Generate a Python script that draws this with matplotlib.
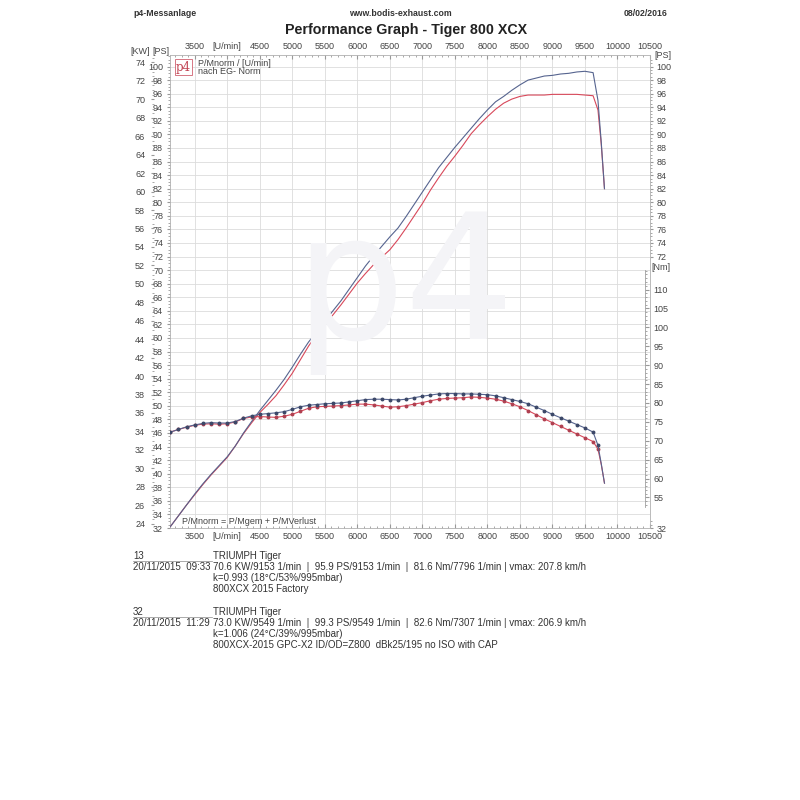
import matplotlib.pyplot as plt
from matplotlib.ticker import MultipleLocator, FixedLocator

plt.rcParams['font.family'] = ['Liberation Sans', 'DejaVu Sans']

# engine speed of the samples [U/min]
rpm = [3125, 3250, 3375, 3500, 3625, 3750, 3875, 4000,
       4125, 4250, 4375, 4500, 4625, 4750, 4875, 5000,
       5125, 5250, 5375, 5500, 5625, 5750, 5875, 6000,
       6125, 6250, 6375, 6500, 6625, 6750, 6875, 7000,
       7125, 7250, 7375, 7500, 7625, 7750, 7875, 8000,
       8125, 8250, 8375, 8500, 8625, 8750, 8875, 9000,
       9125, 9250, 9375, 9500, 9625, 9700, 9750, 9800]

# run 32 - 800XCX-2015 GPC-X2 (blue)
ps_32 = [32.2, 33.8, 35.4, 37.0, 38.5, 39.9, 41.2, 42.5,
         44.1, 46.0, 47.7, 49.3, 50.8, 52.3, 53.9, 55.7,
         57.6, 59.4, 60.9, 62.5, 64.0, 65.5, 67.2, 68.9,
         70.6, 72.1, 73.5, 74.9, 76.2, 77.9, 79.7, 81.5,
         83.3, 85.1, 86.6, 88.1, 89.5, 90.9, 92.3, 93.6,
         94.8, 95.6, 96.5, 97.3, 98.0, 98.3, 98.6, 98.7,
         98.9, 99.0, 99.2, 99.3, 99.1, 95.0, 88.9, 82.0]
nm_32 = [72.3, 73.0, 73.7, 74.2, 74.6, 74.8, 74.7, 74.7,
         75.1, 76.0, 76.6, 77.0, 77.2, 77.4, 77.7, 78.3,
         79.0, 79.4, 79.6, 79.8, 79.9, 80.0, 80.3, 80.6,
         80.9, 81.0, 81.0, 80.9, 80.8, 81.0, 81.4, 81.8,
         82.1, 82.4, 82.5, 82.5, 82.4, 82.4, 82.3, 82.2,
         81.9, 81.4, 80.9, 80.4, 79.8, 78.9, 78.0, 77.0,
         76.1, 75.2, 74.3, 73.4, 72.3, 68.8, 64.0, 58.8]

# run 13 - 800XCX 2015 Factory (red)
ps_13 = [32.2, 33.8, 35.4, 36.9, 38.4, 39.8, 41.1, 42.4,
         44.1, 45.9, 47.5, 49.0, 50.2, 51.5, 53.1, 54.8,
         56.8, 58.8, 60.5, 62.0, 63.4, 64.9, 66.5, 68.1,
         69.5, 70.8, 71.9, 73.0, 74.5, 76.2, 78.0, 79.8,
         81.8, 83.6, 85.3, 86.8, 88.4, 90.1, 91.4, 92.6,
         93.7, 94.6, 95.2, 95.6, 95.8, 95.8, 95.8, 95.9,
         95.9, 95.9, 95.9, 95.8, 95.7, 93.6, 88.6, 82.0]
nm_13 = [72.3, 73.0, 73.6, 74.1, 74.4, 74.5, 74.4, 74.5,
         75.0, 75.9, 76.3, 76.4, 76.3, 76.2, 76.5, 77.0,
         77.8, 78.6, 79.0, 79.1, 79.2, 79.3, 79.5, 79.7,
         79.7, 79.5, 79.2, 78.9, 79.0, 79.3, 79.7, 80.1,
         80.6, 81.0, 81.2, 81.3, 81.4, 81.6, 81.5, 81.3,
         81.0, 80.5, 79.8, 79.0, 78.0, 76.9, 75.8, 74.8,
         73.8, 72.8, 71.8, 70.8, 69.8, 67.8, 63.8, 58.8]

x_ticks = [3500, 4000, 4500, 5000, 5500, 6000, 6500, 7000,
           7500, 8000, 8500, 9000, 9500, 10000, 10500]
x_labels = ['3500', '[U/min]', '4500', '5000', '5500', '6000', '6500', '7000',
            '7500', '8000', '8500', '9000', '9500', '10000', '10500']
ps_ticks = list(range(32, 101, 2))
ps_right_ticks = [32] + list(range(72, 101, 2))
kw_ticks = list(range(24, 75, 2))
nm_ticks = list(range(55, 111, 5))

runs = [
    ("13", "20/11/2015  09:33",
     ["70.6 KW/9153 1/min  |  95.9 PS/9153 1/min  |  81.6 Nm/7796 1/min | vmax: 207.8 km/h",
      "k=0.993 (18\u00b0C/53%/995mbar)",
      "800XCX 2015 Factory"]),
    ("32", "20/11/2015  11:29",
     ["73.0 KW/9549 1/min  |  99.3 PS/9549 1/min  |  82.6 Nm/7307 1/min | vmax: 206.9 km/h",
      "k=1.006 (24\u00b0C/39%/995mbar)",
      "800XCX-2015 GPC-X2 ID/OD=Z800  dBk25/195 no ISO with CAP"]),
]

blue = '#56648f'
red = '#d8485a'
txt = '#444444'
grid = '#dcdcdc'

fig = plt.figure(figsize=(8, 8), dpi=100)
W = H = 800.0

def fx(px):
    return px / W

def fy(py):
    return 1 - py / H

ax = fig.add_axes([fx(170), fy(528), fx(650) - fx(170), fy(55) - fy(528)])
ax.set_xlim(3120, 10500)
ax.set_ylim(32, 101.7)

# watermark
fig.text(fx(405), fy(290), 'p4', fontsize=125, color='#f4f4f7', ha='center', va='center',
         zorder=0, family='DejaVu Sans')

ax.set_xticks(x_ticks, x_labels)
ax.xaxis.set_minor_locator(MultipleLocator(100))
ax.set_yticks(ps_ticks)
ax.yaxis.set_minor_locator(MultipleLocator(0.5))
ax.grid(True, which='major', color=grid, lw=0.6)
ax.set_axisbelow(True)
ax.patch.set_alpha(0)
for s in ax.spines.values():
    s.set_color('#b0b0b0')
    s.set_linewidth(0.6)

ax.tick_params(axis='x', which='both', top=True, labeltop=True, direction='in',
               colors='#999999', labelcolor=txt, labelsize=6.5, pad=3)
ax.tick_params(axis='x', which='major', length=3)
ax.tick_params(axis='x', which='minor', length=1.5)
ax.tick_params(axis='y', which='both', direction='out', colors='#999999',
               labelcolor=txt, labelsize=6.5, pad=2.5)
ax.tick_params(axis='y', which='major', length=2.5)
ax.tick_params(axis='y', which='minor', length=1.2)

# KW scale on the left
kw = ax.secondary_yaxis(-0.033, functions=(lambda p: p / 1.35962, lambda k: k * 1.35962))
kw.set_yticks(kw_ticks)
kw.yaxis.set_minor_locator(MultipleLocator(0.5))
kw.spines['left'].set_visible(False)
kw.tick_params(which='both', direction='out', colors='#999999', labelcolor=txt,
               labelsize=6.5, pad=4)
kw.tick_params(which='major', length=2.5)
kw.tick_params(which='minor', length=1.2)

# PS scale on the right
psr = ax.secondary_yaxis('right')
psr.set_yticks(ps_right_ticks)
psr.yaxis.set_minor_locator(FixedLocator([v / 2 for v in range(144, 203)] + [32.5, 33]))
psr.spines['right'].set_visible(False)
psr.tick_params(which='both', direction='out', colors='#999999', labelcolor=txt,
                labelsize=6.5, pad=2)
psr.tick_params(which='major', length=2.5)
psr.tick_params(which='minor', length=1.2)

# torque scale
axn = ax.twinx()
axn.set_ylim(46.93, 172.06)
for k in ['left', 'top', 'bottom']:
    axn.spines[k].set_visible(False)
axn.spines['right'].set_position(('axes', 0.99))
axn.spines['right'].set_bounds(52.5, 115.2)
axn.spines['right'].set_color('#a0a0a0')
axn.spines['right'].set_linewidth(0.6)
axn.set_yticks(nm_ticks)
axn.yaxis.set_minor_locator(FixedLocator(list(range(53, 116))))
axn.tick_params(which='both', direction='out', colors='#999999', labelcolor=txt,
                labelsize=6.5, pad=3)
axn.tick_params(which='major', length=3)
axn.tick_params(which='minor', length=1.5)

# curves
ax.plot(rpm, ps_13, color=red, lw=0.8, zorder=3)
ax.plot(rpm, ps_32, color=blue, lw=0.8, zorder=3)
axn.plot(rpm, nm_13, color=red, lw=0.8, marker='o', ms=1.8, mfc='#b04050', mec='#b04050',
         markevery=slice(0, 54))
axn.plot(rpm, nm_32, color=blue, lw=0.8, marker='o', ms=1.8, mfc='#3c4868', mec='#3c4868',
         markevery=slice(0, 54))

# axis unit labels
fig.text(fx(130), fy(52), '[KW]', fontsize=6.5, color=txt, va='center')
fig.text(fx(152), fy(52), '[PS]', fontsize=6.5, color=txt, va='center')
fig.text(fx(654), fy(56), '[PS]', fontsize=6.5, color=txt, va='center')
fig.text(fx(651), fy(268), '[Nm]', fontsize=6.5, color=txt, va='center')

# logo box and notes inside the plot
fig.text(fx(176), fy(67), 'p4', fontsize=8.5, color='#c04050', va='center', family='DejaVu Serif',
         bbox=dict(facecolor='white', edgecolor='#d06070', lw=0.6, pad=0.8))
fig.text(fx(198), fy(63), 'P/Mnorm / [U/min]', fontsize=6.5, color=txt, va='center')
fig.text(fx(198), fy(71), 'nach EG- Norm', fontsize=6.5, color=txt, va='center')
fig.text(fx(182), fy(522), 'P/Mnorm = P/Mgem + P/MVerlust', fontsize=6.5, color=txt, va='center')

# header
fig.text(fx(133), fy(13), 'p4-Messanlage', fontsize=6.3, weight='bold', color='#333333', va='center')
fig.text(fx(400), fy(13), 'www.bodis-exhaust.com', fontsize=6.3, weight='bold', color='#333333',
         ha='center', va='center')
fig.text(fx(668), fy(13), '08/02/2016', fontsize=6.3, weight='bold', color='#333333',
         ha='right', va='center')
fig.text(fx(406), fy(30), 'Performance Graph - Tiger 800 XCX', fontsize=10.3, weight='bold',
         color='#222222', ha='center', va='center')

# run info block
y0 = 556
for no, stamp, lines in runs:
    fig.text(fx(133), fy(y0), no, fontsize=7, color='#333333', va='center')
    fig.text(fx(213), fy(y0), 'TRIUMPH Tiger', fontsize=7, color='#333333', va='center')
    fig.add_artist(plt.Line2D([fx(133), fx(212)], [fy(y0 + 5), fy(y0 + 5)], color='#888888', lw=0.5))
    fig.text(fx(133), fy(y0 + 11), stamp, fontsize=7, color='#333333', va='center')
    for i, line in enumerate(lines):
        fig.text(fx(213), fy(y0 + 11 * (i + 1)), line, fontsize=7, color='#333333', va='center')
    y0 += 56

fig.savefig('out.png', dpi=100, facecolor='white')
